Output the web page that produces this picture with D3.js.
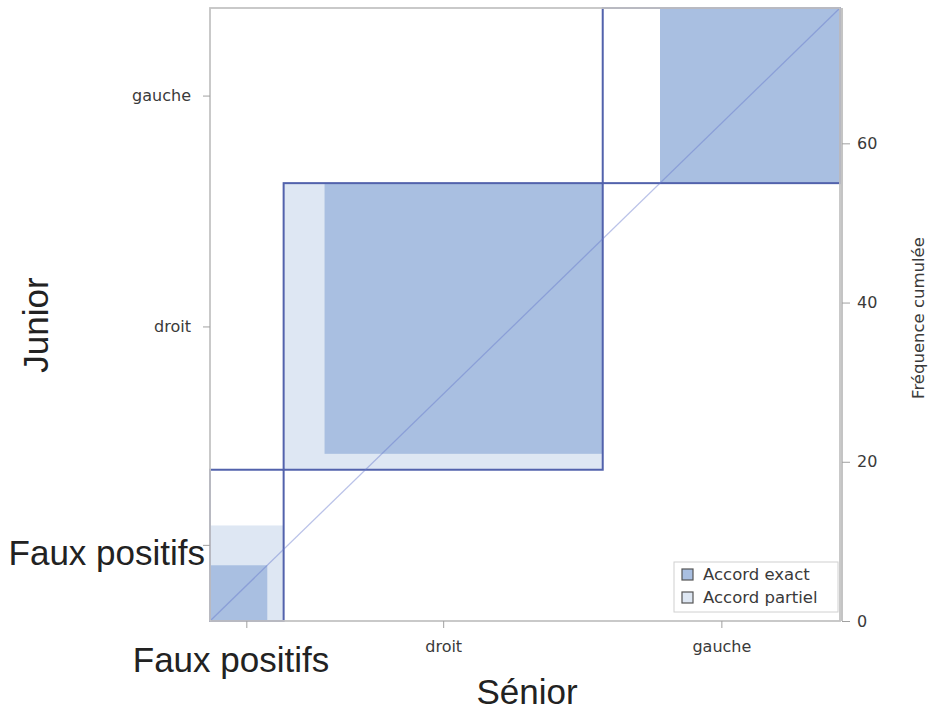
<!DOCTYPE html>
<html>
<head>
<meta charset="utf-8">
<script src="https://cdn.jsdelivr.net/npm/d3@7"></script>
<style>
  body { margin: 0; background: #fff; }
  text { font-family: "DejaVu Sans", Verdana, sans-serif; }
  .big { font-family: "Liberation Sans", Arial, sans-serif; }
</style>
</head>
<body>
<div id="chart"></div>
<script>
// categories (same for both raters)
const categories = ["Faux positifs", "droit", "gauche"];
// counts[junior][senior]
const rowFP     = [7, 5, 7];
const rowDroit  = [2, 34, 0];
const rowGauche = [0, 0, 22];
const counts = [rowFP, rowDroit, rowGauche];
const freqTicks = [0, 20, 40, 60];
const legendLabels = ["Accord exact", "Accord partiel"];

const W = 928, H = 710;
const pLeft = 210, pRight = 840, pTop = 8, pBottom = 621;

const n = categories.length;
const rowTot = counts.map(r => d3.sum(r));
const colTot = categories.map((c, j) => d3.sum(counts, r => r[j]));
const N = d3.sum(rowTot);
const rowCum = [0], colCum = [0];
for (let i = 0; i < n; i++) {
  rowCum.push(rowCum[i] + rowTot[i]);
  colCum.push(colCum[i] + colTot[i]);
}

const x = d3.scaleLinear().domain([0, N]).range([pLeft, pRight]);
const y = d3.scaleLinear().domain([0, N]).range([pBottom, pTop]);

const svg = d3.select("#chart").append("svg")
  .attr("width", W).attr("height", H);

const dark = "#a9bfe1", light = "#dee7f3", boxColor = "#5262ac";

// partial agreement rects (cells one step off diagonal)
const partial = [], exact = [];
for (let i = 0; i < n; i++) {
  let xs = colCum[i], ys = rowCum[i];
  for (let k = 0; k < i - 1; k++) { xs += counts[k][i]; ys += counts[i][k]; }
  let w = 0, h = 0;
  for (let k = Math.max(0, i - 1); k <= Math.min(n - 1, i + 1); k++) {
    w += counts[k][i]; h += counts[i][k];
  }
  partial.push({x0: xs, y0: ys, x1: xs + w, y1: ys + h});

  let ex = colCum[i], ey = rowCum[i];
  for (let k = 0; k < i; k++) { ex += counts[k][i]; ey += counts[i][k]; }
  exact.push({x0: ex, y0: ey, x1: ex + counts[i][i], y1: ey + counts[i][i]});
}

svg.selectAll(".partial").data(partial).enter().append("rect")
  .attr("class", "partial")
  .attr("x", d => x(d.x0)).attr("y", d => y(d.y1))
  .attr("width", d => x(d.x1) - x(d.x0)).attr("height", d => y(d.y0) - y(d.y1))
  .attr("fill", light);

svg.selectAll(".exact").data(exact).enter().append("rect")
  .attr("class", "exact")
  .attr("x", d => x(d.x0)).attr("y", d => y(d.y1))
  .attr("width", d => x(d.x1) - x(d.x0)).attr("height", d => y(d.y0) - y(d.y1))
  .attr("fill", dark);

// boxes for each category
svg.selectAll(".box").data(d3.range(n)).enter().append("rect")
  .attr("class", "box")
  .attr("x", i => x(colCum[i])).attr("y", i => y(rowCum[i + 1]))
  .attr("width", i => x(colCum[i + 1]) - x(colCum[i]))
  .attr("height", i => y(rowCum[i]) - y(rowCum[i + 1]))
  .attr("fill", "none").attr("stroke", boxColor).attr("stroke-width", 2);

// diagonal
svg.append("line")
  .attr("x1", x(0)).attr("y1", y(0)).attr("x2", x(N)).attr("y2", y(N))
  .attr("stroke", "#6677cc").attr("stroke-opacity", 0.45).attr("stroke-width", 1.3);

// frame
svg.append("rect")
  .attr("x", pLeft).attr("y", pTop).attr("width", pRight - pLeft).attr("height", pBottom - pTop)
  .attr("fill", "none").attr("stroke", "#c4c4c4").attr("stroke-width", 1.8);

// category axes (ticks at mid of intervals)
const midCol = categories.map((c, i) => (colCum[i] + colCum[i + 1]) / 2);
const midRow = categories.map((c, i) => (rowCum[i] + rowCum[i + 1]) / 2);

const xAxis = svg.append("g")
  .attr("transform", "translate(0," + pBottom + ")")
  .call(d3.axisBottom(x).tickValues(midCol.slice(1)).tickSize(7).tickPadding(13)
    .tickFormat((d, i) => categories[i + 1]));
const yAxis = svg.append("g")
  .attr("transform", "translate(" + pLeft + ",0)")
  .call(d3.axisLeft(y).tickValues(midRow.slice(1)).tickSize(7).tickPadding(12)
    .tickFormat((d, i) => categories[i + 1]));
const rAxis = svg.append("g")
  .attr("transform", "translate(" + (pRight + 2) + ",0)")
  .call(d3.axisRight(y).tickValues(freqTicks).tickSize(8).tickPadding(7));

[xAxis, yAxis, rAxis].forEach(g => {
  g.select(".domain").attr("stroke", "#c4c4c4").attr("stroke-width", 2);
  g.selectAll(".tick line").attr("stroke", "#a0a0a0");
  g.selectAll(".tick text").attr("fill", "#3a3a3a").style("font-size", "16px");
});
xAxis.select(".domain").remove();
yAxis.select(".domain").remove();
rAxis.select(".domain").attr("d", "M0," + pBottom + "V" + pTop);

// first category ticks with large labels
svg.append("line")
  .attr("x1", x(midCol[0])).attr("x2", x(midCol[0]))
  .attr("y1", pBottom).attr("y2", pBottom + 7).attr("stroke", "#a0a0a0");
svg.append("line")
  .attr("x1", pLeft - 7).attr("x2", pLeft)
  .attr("y1", y(midRow[0])).attr("y2", y(midRow[0])).attr("stroke", "#a0a0a0");

svg.append("text").attr("class", "big")
  .attr("x", 231).attr("y", 672).attr("text-anchor", "middle")
  .style("font-size", "35px").attr("fill", "#222").text(categories[0]);
svg.append("text").attr("class", "big")
  .attr("x", 205).attr("y", 565).attr("text-anchor", "end")
  .style("font-size", "35px").attr("fill", "#222").text(categories[0]);

// axis titles
svg.append("text").attr("class", "big")
  .attr("x", 527).attr("y", 704).attr("text-anchor", "middle")
  .style("font-size", "35px").attr("fill", "#222").text("Sénior");
svg.append("text").attr("class", "big")
  .attr("transform", "translate(48,325) rotate(-90)")
  .attr("text-anchor", "middle")
  .style("font-size", "35px").attr("fill", "#222").text("Junior");
svg.append("text")
  .attr("transform", "translate(924,318) rotate(-90)")
  .attr("text-anchor", "middle")
  .style("font-size", "16.5px").attr("fill", "#3a3a3a").text("Fréquence cumulée");

// legend
const lg = svg.append("g").attr("transform", "translate(674,562)");
lg.append("rect").attr("width", 164).attr("height", 50)
  .attr("fill", "#fff").attr("stroke", "#d0d0d0");
lg.selectAll(".item").data(legendLabels).enter().append("g")
  .attr("class", "item")
  .attr("transform", (d, i) => "translate(8," + (7 + i * 23) + ")")
  .each(function(d, i) {
    const g = d3.select(this);
    g.append("rect").attr("width", 11).attr("height", 11)
      .attr("fill", i === 0 ? dark : light).attr("stroke", "#555").attr("stroke-width", 1.2);
    g.append("text").attr("x", 21).attr("y", 11)
      .style("font-size", "16.5px").attr("fill", "#3a3a3a").text(d);
  });
</script>
</body>
</html>
